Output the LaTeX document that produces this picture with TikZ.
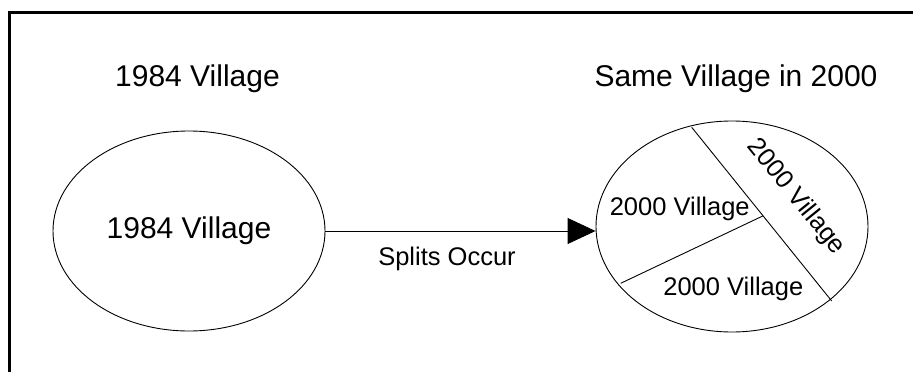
\documentclass[tikz,border=0pt]{standalone}
\usepackage{fontspec}
\setmainfont{Liberation Sans}
\usetikzlibrary{shapes.geometric,arrows.meta}
\begin{document}
\begin{tikzpicture}[x=1pt,y=-1pt,
  village/.style={draw,ellipse,line width=0.9pt,inner sep=0pt,font=\fontsize{30}{36}\selectfont},
  bigtxt/.style={font=\fontsize{30}{36}\selectfont,inner sep=0pt},
  midtxt/.style={font=\fontsize{25.5}{30}\selectfont,inner sep=0pt},
  thin/.style={line width=0.9pt},
  frame/.style={line width=3pt}]
\useasboundingbox (0,0) rectangle (913,372);
\draw[frame] (9.5,372) -- (9.5,12.5) -- (913,12.5);
% titles
\node[bigtxt,anchor=base] (t1) at (197.5,86) {1984 Village};
\node[bigtxt,anchor=base] (t2) at (736,86) {Same Village in 2000};
% ellipses
\node[village,minimum width=272pt,minimum height=200pt] (old) at (189,231) {1984 Village};
\node[village,minimum width=272pt,minimum height=211pt] (new) at (732,226.5) {};
% arrow
\draw[thin,-{Triangle[length=28pt,width=26pt]}] (old.east) -- (old.east -| new.west);
\node[midtxt,anchor=base] (split) at (447,265) {Splits Occur};
% splits
\coordinate (a1) at (691.7,127.3);
\coordinate (a2) at (831.7,301);
\coordinate (b1) at (620.7,283.3);
\coordinate (b2) at (762.7,216);
\draw[thin] (a1) -- (a2);
\draw[thin] (b1) -- (b2);
\node[midtxt,anchor=base] (v1) at (679.7,215) {2000 Village};
\node[midtxt,anchor=base] (v2) at (733.3,295) {2000 Village};
\node[midtxt,rotate=-51] (v3) at (796,197) {2000 Village};
\end{tikzpicture}
\end{document}
